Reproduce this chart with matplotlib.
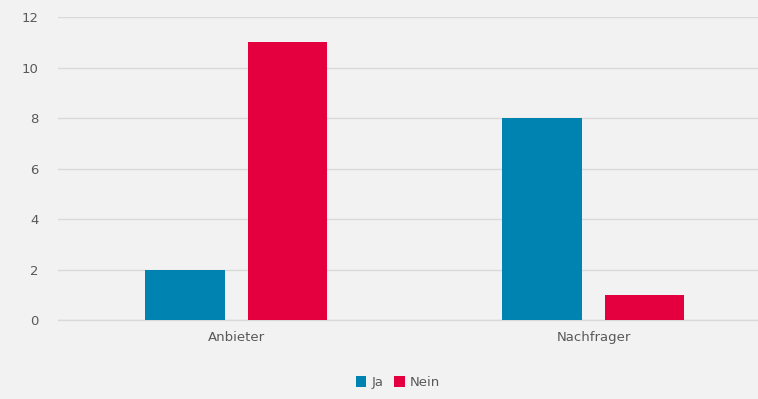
import matplotlib
matplotlib.use("Agg")
import matplotlib.pyplot as plt
import numpy as np

# Daten
kategorien = ["Anbieter", "Nachfrager"]
ja = [2, 8]
nein = [11, 1]
y_ticks = [0, 2, 4, 6, 8, 10, 12]

farbe_ja = "#0083B0"
farbe_nein = "#E4003F"
hintergrund = "#F2F2F2"
textfarbe = "#595959"

fig = plt.figure(figsize=(7.58, 3.99), dpi=100, facecolor=hintergrund)
ax = fig.add_axes([0.0765, 0.198, 0.9235, 0.759], facecolor=hintergrund)

x = np.arange(len(kategorien))
breite = 0.224
versatz = 0.143
ax.bar(x - versatz, ja, breite, color=farbe_ja, label="Ja", zorder=3)
ax.bar(x + versatz, nein, breite, color=farbe_nein, label="Nein", zorder=3)

ax.set_xlim(-0.5, 1.461)
ax.set_ylim(0, 12)
ax.set_yticks(y_ticks)
ax.set_xticks(x)
ax.set_xticklabels(kategorien)
ax.grid(axis="y", color="#D9D9D9", linewidth=1, zorder=0)
# Nulllinie ganz zeichnen (sonst am Achsenrand halb abgeschnitten)
ax.axhline(0, color="#D9D9D9", linewidth=1, zorder=2, clip_on=False)
ax.tick_params(axis="both", length=0, colors=textfarbe, labelsize=9.5)
ax.tick_params(axis="y", pad=14)
ax.tick_params(axis="x", pad=8)
for s in ax.spines.values():
    s.set_visible(False)

fig.legend(loc="lower center", bbox_to_anchor=(0.525, -0.005), ncol=2, frameon=False,
           handlelength=0.8, handleheight=0.8, handletextpad=0.4, columnspacing=0.8,
           fontsize=9.5, labelcolor=textfarbe)

fig.savefig("out.png", dpi=100, facecolor=hintergrund)
